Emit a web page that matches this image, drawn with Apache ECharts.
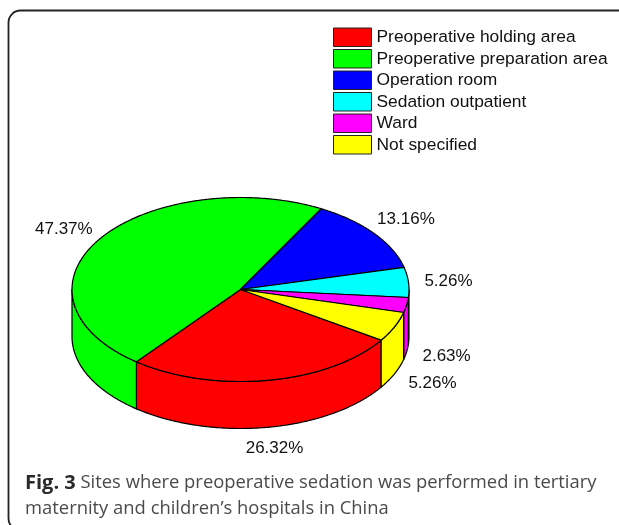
<!DOCTYPE html>
<html>
<head>
<meta charset="utf-8">
<script src="https://cdn.jsdelivr.net/npm/echarts@6/dist/echarts.min.js"></script>
<style>html,body{margin:0;padding:0;background:#fff}#c{width:619px;height:525px}</style>
</head>
<body>
<div id="c"></div>
<script>
const categories = ['Preoperative holding area','Preoperative preparation area','Operation room','Sedation outpatient','Ward','Not specified'];
const percents = [26.32,47.37,13.16,5.26,2.63,5.26];
const colors = ['#ff0000','#00ff00','#0000ff','#00ffff','#ff00ff','#ffff00'];
const labelNudges = [[7,68],[-36,-10],[32,-14],[40,-1],[40,51],[38,56]];
const captionBold = 'Fig. 3';
const captionLine1 = ' Sites where preoperative sedation was performed in tertiary';
const captionLine2 = 'maternity and children\u2019s hospitals in China';

const pie = {cx:240.5, cy:289.5, rx:168.5, ry:92, depth:47, start:33.4};
const total = percents.reduce((a,b)=>a+b,0);
const rad = d => d*Math.PI/180;
const rim = (t,dy) => [pie.cx+pie.rx*Math.cos(rad(t)), pie.cy+pie.ry*Math.sin(rad(t))+(dy||0)];
function arc(a,b,dy){
  const n=Math.max(2,Math.ceil(Math.abs(b-a)*2)), pts=[];
  for(let i=0;i<=n;i++) pts.push(rim(a+(b-a)*i/n,dy));
  return pts;
}
function bounds(idx){
  let a=pie.start;
  for(let i=0;i<idx;i++) a+=percents[i]/total*360;
  return [a,a+percents[idx]/total*360];
}
const lineStyle={stroke:'#000',lineWidth:1.2,lineJoin:'round'};
function renderSlice(idx){
  return function(params,api){
    const span=api.value(0)/total*360;
    const [a]=bounds(idx), b=a+span;
    const kids=[];
    [[0,180],[360,540]].forEach(([lo,hi])=>{
      const s=Math.max(a,lo), e=Math.min(b,hi);
      if(e>s){
        kids.push({type:'polygon',shape:{points:arc(s,e,0).concat(arc(e,s,pie.depth))},
          style:Object.assign({fill:colors[idx]},lineStyle)});
      }
    });
    kids.push({type:'polygon',shape:{points:[[pie.cx,pie.cy]].concat(arc(a,b,0))},
      style:Object.assign({fill:colors[idx]},lineStyle)});
    const p=rim((a+b)/2,0), nudge=labelNudges[idx];
    kids.push({type:'text',style:{text:api.value(0).toFixed(2)+'%',x:p[0]+nudge[0],y:p[1]+nudge[1],
      align:'center',verticalAlign:'middle',fill:'#111',font:'17px "Liberation Sans"'}});
    return {type:'group',children:kids};
  };
}
const chart=echarts.init(document.getElementById('c'),null,{renderer:'canvas'});
chart.setOption({
  animation:false,
  backgroundColor:'#fff',
  title:{
    left:25,top:470,padding:0,
    text:'{b|'+captionBold+'}{r|'+captionLine1+'}\n{r|'+captionLine2+'}',
    textStyle:{fontWeight:'normal',rich:{
      b:{fontFamily:'Open Sans',fontWeight:'bold',fontSize:20,color:'#2a2a2a',lineHeight:26},
      r:{fontFamily:'Open Sans',fontWeight:'normal',fontSize:18.4,color:'#4a4a4a',lineHeight:26}
    }}
  },
  legend:{
    left:333,top:27.5,padding:0,orient:'vertical',
    itemWidth:38,itemHeight:18.5,itemGap:2,
    icon:'rect',selectedMode:false,
    itemStyle:{borderColor:'#222',borderWidth:1},
    textStyle:{fontFamily:'Liberation Sans',fontSize:17.4,color:'#111'},
    data:categories
  },
  graphic:[{type:'rect',silent:true,z:-1,
    shape:{x:8.5,y:10.5,width:800,height:520,r:12},
    style:{fill:'none',stroke:'#222',lineWidth:1.8}}],
  series:categories.map((name,i)=>({
    type:'custom',name,coordinateSystem:'none',
    itemStyle:{color:colors[i]},
    data:[[percents[i]]],
    renderItem:renderSlice(i)
  }))
});
</script>
</body>
</html>
